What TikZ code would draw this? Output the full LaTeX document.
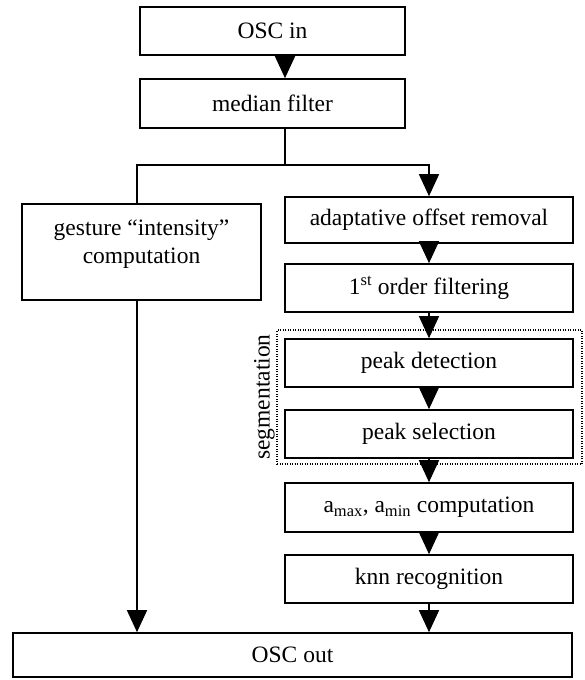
\documentclass[tikz,border=0pt]{standalone}
\usepackage{fontspec}
\setmainfont{Liberation Serif}
\usetikzlibrary{arrows.meta}

\begin{document}
\begin{tikzpicture}[x=1pt,y=-1pt,
    box/.style={draw,line width=1.6pt,inner sep=0pt,minimum height=48pt,font=\fontsize{23.5}{28}\selectfont},
    rbox/.style={box,minimum width=288pt},
    arr/.style={line width=1.4pt,-{Triangle[width=20pt,length=22pt]}}]
    \useasboundingbox(0,0)rectangle(584,680);
    % segmentation frame
    \node[draw,line width=1.2pt,dash pattern=on 1pt off 1.5pt,minimum width=305pt,minimum height=134pt](seg)at(429.5,397){};
    \node[rotate=90,anchor=south,inner sep=1.5pt,font=\fontsize{23.5}{28}\selectfont](seglabel)at(seg.west){segmentation};
    % boxes
    \node[box,minimum width=265pt](in)at(272.5,31){OSC in};
    \node[box,minimum width=265pt,minimum height=49pt](median)at(272.5,103.5){median filter};
    \node[box,minimum width=239pt,minimum height=96pt](gest)at(141.5,252){\raisebox{8pt}[\height][\depth]{\begin{tabular}{@{}c@{}}gesture “intensity”\\computation\end{tabular}}};
    \node[rbox,minimum height=46pt](adapt)at(429,220){adaptative offset removal};
    \node[rbox](first)at(429,288){1\textsuperscript{st} order filtering};
    \node[rbox](peakdet)at(429,363){peak detection};
    \node[rbox](peaksel)at(429,434){peak selection};
    \node[rbox,minimum height=49pt](amax)at(429,507.5){a\textsubscript{max}, a\textsubscript{min} computation};
    \node[rbox](knn)at(429,579){knn recognition};
    \node[box,minimum width=559pt,minimum height=44pt](out)at(292.5,655){OSC out};
    % connectors
    \coordinate(lx)at(137,0);
    \coordinate(xa)at(285,0);
    \coordinate(split)at(285,165);
    \draw[arr](in.south-|xa)--(median.north-|xa);
    \draw[line width=1.4pt](median.south-|xa)--(split);
    \draw[arr](gest.north-|lx)|-(split)-|(adapt.north);
    \foreach \a/\b in {adapt/first,first/peakdet,peakdet/peaksel,peaksel/amax,amax/knn}
        \draw[arr](\a)--(\b);
    \draw[arr](gest.south-|lx)--(out.north-|lx);
    \draw[arr](knn.south)--(knn.south|-out.north);
\end{tikzpicture}
\end{document}
